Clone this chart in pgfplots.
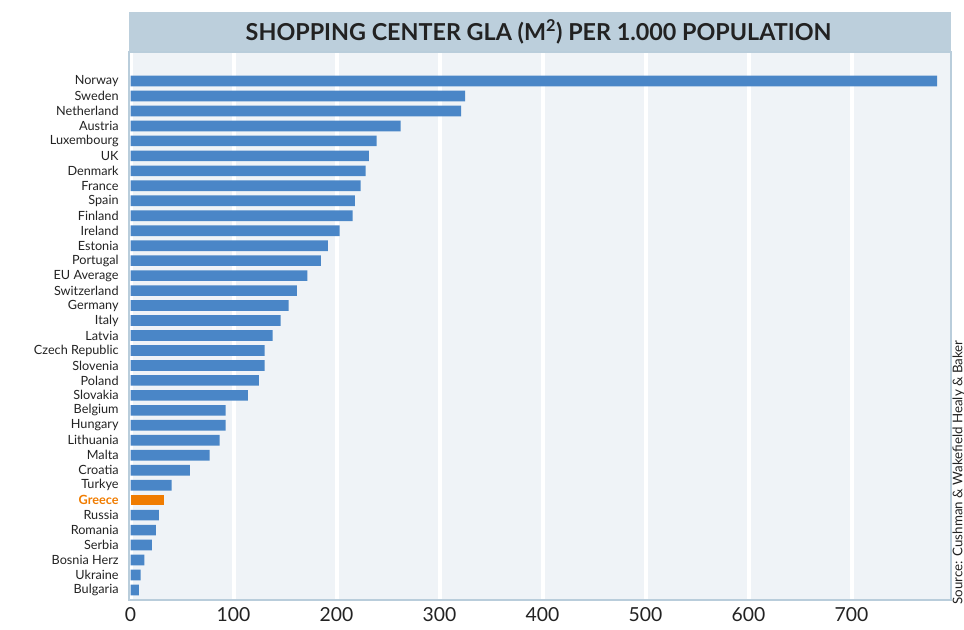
\documentclass[border=0pt]{standalone}
\usepackage{fontspec}
\setmainfont{Lato}
\usepackage{pgfplots}
\pgfplotsset{compat=1.18}
\definecolor{barblue}{HTML}{4A86C7}
\definecolor{greeceorange}{HTML}{F07C00}
\definecolor{plotbg}{HTML}{EFF3F7}
\definecolor{titleband}{HTML}{BCCFDC}
\definecolor{frameblue}{HTML}{B9CDDB}
\definecolor{txt}{HTML}{222222}
\begin{document}
\begin{tikzpicture}
\useasboundingbox (0,0) rectangle (723pt,471.75pt);
\fill[titleband] (96.75pt,432.75pt) rectangle (713.25pt,462.75pt);
\node[font=\bfseries\fontsize{17.5}{20}\selectfont, text=txt] at (404pt,447.75pt) {SHOPPING CENTER GLA (M\textsuperscript{2}) PER 1.000 POPULATION};
\begin{axis}[
  at={(96.75pt,21.75pt)}, anchor=south west,
  scale only axis, width=616.5pt, height=411pt,
  xbar, bar width=8pt,
  xmin=-1.5, xmax=796.6,
  ymin=-1.94, ymax=34.67, y dir=reverse,
  axis background/.style={fill=plotbg},
  axis line style={draw=frameblue, line width=1.2pt},
  xmajorgrids, major grid style={white, line width=3pt},
  xtick={0,100,...,700},
  ytick={0,...,34},
  tick style={draw=none},
  /pgf/number format/assume math mode=true,
  xticklabel style={font=\fontsize{14.5}{16}\selectfont, text=txt, yshift=-2pt},
  yticklabel style={font=\fontsize{9.5}{11}\selectfont, text=txt},
  yticklabels={Norway,Sweden,Netherland,Austria,Luxembourg,UK,Denmark,France,Spain,Finland,Ireland,Estonia,Portugal,EU Average,Switzerland,Germany,Italy,Latvia,Czech Republic,Slovenia,Poland,Slovakia,Belgium,Hungary,Lithuania,Malta,Croatia,Turkye,{\color{greeceorange}\bfseries Greece},Russia,Romania,Serbia,Bosnia Herz,Ukraine,Bulgaria},
  clip=false,
]
\addplot[fill=barblue, draw=none, bar shift=0pt] coordinates {
(783,0) (324.8,1) (320.9,2) (262.3,3) (239,4) (231.3,5) (228.3,6) (223.5,7) (217.7,8) (215.7,9)
(203.1,10) (191.5,11) (184.7,12) (171.7,13) (161.4,14) (153.6,15) (145.8,16) (138,17) (130.3,18) (130.3,19)
(124.5,20) (113.8,21) (92.4,22) (92.4,23) (86.6,24) (76.9,25) (57.5,26) (40,27) (27.4,29)
(24.5,30) (20.6,31) (13.4,32) (9.9,33) (8,34)
};
\addplot[fill=greeceorange, draw=none, bar shift=0pt] coordinates {(32.2,28)};
\end{axis}
\node[rotate=90, anchor=east, font=\fontsize{10}{12}\selectfont, text=txt] at (719pt,220pt) {Source: Cushman \& Wakefield Healy \& Baker};
\end{tikzpicture}
\end{document}
